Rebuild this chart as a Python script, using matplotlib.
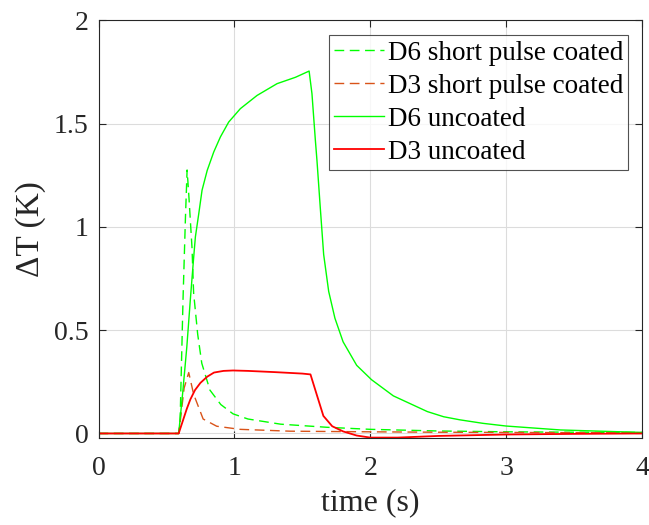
import matplotlib
matplotlib.use("Agg")
import matplotlib.pyplot as plt

# D6 uncoated (solid green)
t_d6u = [0.0, 0.59, 0.62, 0.65, 0.676, 0.70, 0.713, 0.738, 0.762, 0.80, 0.848, 0.897, 0.958, 1.044, 1.167, 1.314,
         1.45, 1.55, 1.571, 1.596, 1.608, 1.632, 1.657, 1.694, 1.74, 1.80, 1.90, 2.01, 2.17, 2.42, 2.54, 2.66,
         2.83, 3.0, 3.4, 4.0]
v_d6u = [0.0, 0.0, 0.2, 0.42, 0.65, 0.85, 0.952, 1.065, 1.178, 1.274, 1.363, 1.436, 1.508, 1.573, 1.637, 1.694,
         1.725, 1.755, 1.645, 1.42, 1.32, 1.095, 0.867, 0.688, 0.558, 0.444, 0.33, 0.26, 0.182, 0.106, 0.081, 0.066,
         0.049, 0.036, 0.017, 0.005]

# D6 short pulse coated (dashed green)
t_d6c = [0.0, 0.59, 0.60, 0.622, 0.64, 0.652, 0.664, 0.676, 0.688, 0.70, 0.73, 0.76, 0.82, 0.90, 0.99, 1.1, 1.34, 1.68,
         2.0, 2.5, 3.0, 3.5, 4.0]
v_d6c = [0.0, 0.0, 0.05, 0.65, 1.05, 1.276, 1.16, 1.03, 0.90, 0.68, 0.48, 0.34, 0.21, 0.14, 0.095, 0.07, 0.045, 0.03,
         0.02, 0.012, 0.008, 0.006, 0.005]

# D3 short pulse coated (dashed orange)
t_d3c = [0.0, 0.59, 0.60, 0.63, 0.664, 0.70, 0.77, 0.87, 1.04, 1.41, 2.0, 2.5, 3.0, 3.5, 4.0]
v_d3c = [0.0, 0.0, 0.05, 0.22, 0.295, 0.19, 0.07, 0.035, 0.02, 0.011, 0.008, 0.006, 0.005, 0.004, 0.004]

# D3 uncoated (solid red)
t_d3u = [0.0, 0.59, 0.62, 0.65, 0.676, 0.71, 0.75, 0.80, 0.85, 0.92, 0.99, 1.1, 1.3, 1.5, 1.56,
         1.61, 1.655, 1.72, 1.8, 1.9, 2.0, 2.2, 2.5, 3.0, 3.5, 4.0]
v_d3u = [0.0, 0.0, 0.06, 0.12, 0.165, 0.21, 0.245, 0.275, 0.295, 0.303, 0.305, 0.303, 0.297, 0.29, 0.286,
         0.18, 0.085, 0.035, 0.01, -0.01, -0.02, -0.02, -0.012, -0.005, -0.002, 0.0]

labels = ["D6 short pulse coated", "D3 short pulse coated", "D6 uncoated", "D3 uncoated"]
xticks = [0, 1, 2, 3, 4]
yticks = [0, 0.5, 1, 1.5, 2]
yticklabels = ["0", "0.5", "1", "1.5", "2"]

plt.rcParams['font.family'] = ['Liberation Serif', 'DejaVu Serif']
axc = '#262626'

fig = plt.figure(figsize=(6.49, 5.25), dpi=100)
ax = fig.add_axes([0.1518, 0.1657, 0.8374, 0.7953])

ax.plot(t_d6c, v_d6c, '--', color='#00FF00', lw=1.0, dashes=(7, 4), label=labels[0])
ax.plot(t_d3c, v_d3c, '--', color='#D95319', lw=1.0, dashes=(7, 4), label=labels[1])
ax.plot(t_d6u, v_d6u, '-', color='#00FF00', lw=1.0, label=labels[2])
ax.plot(t_d3u, v_d3u, '-', color='#FF0000', lw=1.3, label=labels[3])

ax.set_xlim(0, 4)
ax.set_ylim(-0.022, 2)
ax.set_xticks(xticks)
ax.set_yticks(yticks)
ax.set_yticklabels(yticklabels)
ax.grid(True, color='#dcdcdc', lw=0.8)
ax.set_axisbelow(True)
ax.tick_params(direction='in', length=5, colors=axc, labelsize=20, top=True, right=True)
ax.tick_params(axis='x', pad=13)
ax.tick_params(axis='y', pad=7)
for s in ax.spines.values():
    s.set_color(axc)
    s.set_linewidth(0.8)

ax.set_xlabel('time (s)', fontsize=23, color=axc, labelpad=5)
ax.set_ylabel('ΔT (K)', fontsize=24, color=axc, labelpad=6)

leg = ax.legend(loc='upper right', fontsize=19.5, frameon=True, fancybox=False, edgecolor=axc,
                handlelength=1.85, handletextpad=0.12, borderpad=0.2, labelspacing=0.3,
                borderaxespad=0, bbox_to_anchor=(0.975, 0.965))
leg.get_frame().set_linewidth(0.8)

fig.savefig('out.png', dpi=100)
